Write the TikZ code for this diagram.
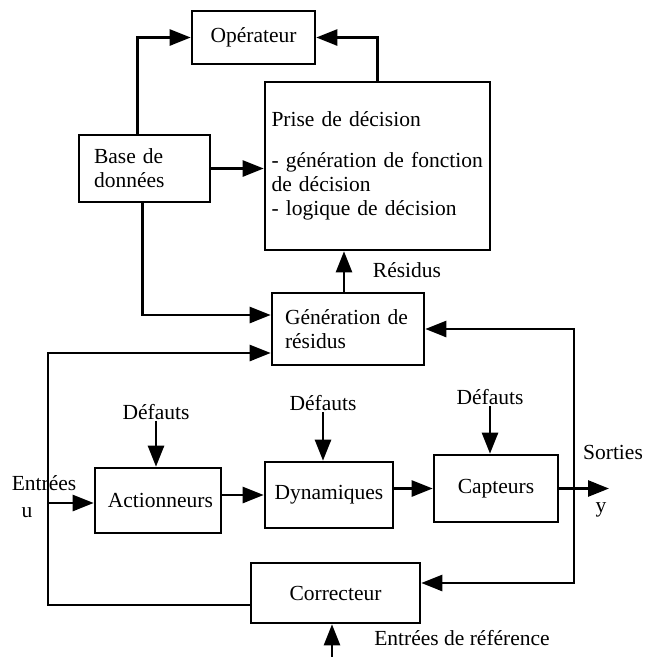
\documentclass[tikz,border=0pt]{standalone}
\usepackage{fontspec}
\setmainfont{Liberation Serif}
\usetikzlibrary{arrows.meta}

\begin{document}
\begin{tikzpicture}[x=1pt,y=-1pt]
    \useasboundingbox (0,0) rectangle (645,657);

    % labels
    \begin{scope}[every node/.style={font=\fontsize{21.5}{24}\selectfont,inner sep=1pt}]
      \node (res) at (407,270) {Résidus};
      \node (d1) at (156,412) {Défauts};
      \node (d2) at (323,403) {Défauts};
      \node (d3) at (490,397) {Défauts};
      \node (ent) at (44,483) {Entrées};
      \node (u) at (27,513) {u};
      \node (sort) at (613,452) {Sorties};
      \node (y) at (601,510) {y};
      \node (refl) at (462,638) {Entrées de référence};
    \end{scope}

    % blocks
    \begin{scope}[every node/.style={draw,line width=2.6pt,inner sep=0pt,
        font=\fontsize{21.5}{24}\selectfont}]
      \node[minimum width=123pt,minimum height=53pt] (oper) at (253.5,37.5) {Opérateur};
      \node[text width=212pt,inner xsep=6.5pt,minimum height=168pt,align=left]
        (prise) at (377.5,166) {Prise de décision\\[17pt]
        \mbox{- génération de fonction}\\ de décision\\ - logique de décision};
      \node[text width=101pt,inner xsep=15pt,minimum height=67pt,align=left]
        (base) at (144.5,168.5) {Base de\\ données};
      \node[text width=126pt,inner xsep=13pt,minimum height=72pt,align=left]
        (gen) at (348,329) {Génération de\\ résidus};
      \node[minimum width=126pt,minimum height=65pt,text width=110pt,align=right,inner xsep=6pt]
        (act) at (158,500.5) {Actionneurs};
      \node[minimum width=128pt,minimum height=66pt] (dyn) at (329,495) {Dynamiques};
      \node[minimum width=124pt,minimum height=67pt] (capt) at (496,488.5) {Capteurs};
      \node[minimum width=169pt,minimum height=60pt] (corr) at (335.5,593) {Correcteur};
    \end{scope}

    \coordinate (ybr) at (574,488.5);
    \coordinate (yout) at (609,488.5);
    \coordinate (uj) at (48,503);
    \coordinate (ref) at (332,657);

    % connections
    \begin{scope}[>={Triangle[length=21pt,width=16pt]},line width=2.6pt]
      \draw[->] ([xshift=-7pt]base.north) |- (oper.west);
      \draw[->] (prise.north) |- (oper.east);
      \draw[->] (base.east) -- (base.east -| prise.west);
      \draw[->] ([xshift=-2pt]base.south) |- ([yshift=14pt]gen.west);
      \draw[->] ([xshift=-4pt]gen.north) -- ([xshift=-4pt]gen.north |- prise.south);
      \draw[->] ([yshift=-12pt]corr.west) -| (uj) |- ([yshift=-24pt]gen.west);
      \draw[->] (uj) -- (uj -| act.west);
      \draw[->] (act.east |- dyn.west) -- (dyn.west);
      \draw[->] (dyn.east |- capt.west) -- (capt.west);
      \draw[->] (capt.east) -- (yout);
      \draw[->] (ybr) |- (gen.east);
      \draw[->] (ybr) |- ([yshift=10pt]corr.east);
      \draw[->] (d1.south) -- (d1.south |- act.north);
      \draw[->] (d2.south) -- (d2.south |- dyn.north);
      \draw[->] (d3.south) -- (d3.south |- capt.north);
      \draw[->] (ref) -- (ref |- corr.south);
    \end{scope}
  \end{tikzpicture}
\end{document}
